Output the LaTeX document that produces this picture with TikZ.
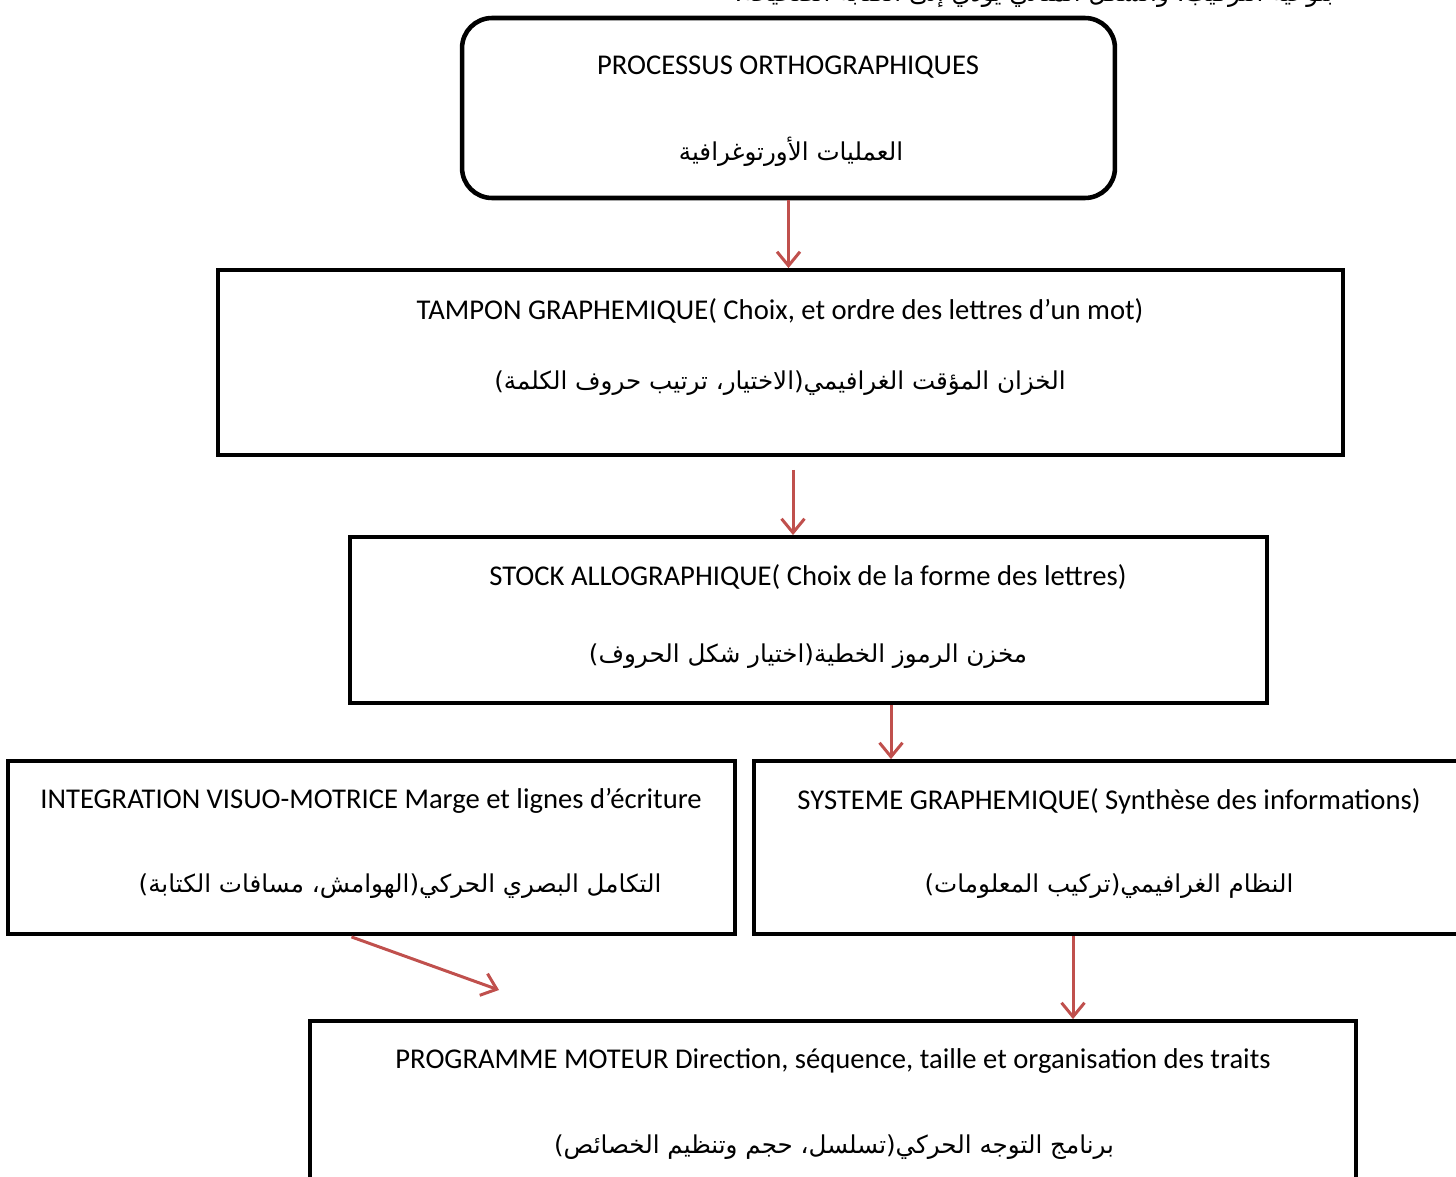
\documentclass[tikz,border=0pt]{standalone}
\usepackage{fontspec}
\setmainfont{Carlito}
\newfontfamily\arabicfont[Script=Arabic]{DejaVu Sans}
\TeXXeTstate=1
\usetikzlibrary{arrows.meta, calc}
\definecolor{arrowred}{HTML}{C0504D}

\begin{document}
\begin{tikzpicture}[x=0.02cm, y=-0.02cm, box/.style={draw, line width=2.2pt, inner sep=0pt}, fr/.style={font=\fontsize{16.3}{19}\selectfont}, ar/.style={font=\arabicfont\fontsize{14}{17}\selectfont}, link/.style={-{Straight Barb[length=0.28cm, width=0.46cm]}, draw=arrowred, line width=1.7pt}]
\useasboundingbox (0,0) rectangle (1456,1176);
\clip (0,0) rectangle (1456,1176);

\node[ar] (note) at (1034,-5) {\beginR بنوعية التركيب، والشكل المثالي يؤدي إلى الكتابة الصحيحة.\endR};

\node[box, line width=2.6pt, rounded corners=0.6cm, minimum width=13.06cm, minimum height=3.6cm] (ortho) at (788.5,108) {};
\node[fr] (orthofr) at (788,67) {PROCESSUS ORTHOGRAPHIQUES};
\node[ar] (orthoar) at (791,152) {\beginR العمليات الأورتوغرافية\endR};

\node[box, minimum width=22.5cm, minimum height=3.7cm] (tampon) at (780.5,362.5) {};
\node[fr] (tamponfr) at (780,311) {TAMPON GRAPHEMIQUE( Choix, et ordre des lettres d’un mot)};
\node[ar] (tamponar) at (780,383) {\beginR الخزان المؤقت الغرافيمي(الاختيار، ترتيب حروف الكلمة)\endR};

\node[box, minimum width=18.34cm, minimum height=3.32cm] (stock) at (808.5,620) {};
\node[fr] (stockfr) at (808,577) {STOCK ALLOGRAPHIQUE( Choix de la forme des lettres)};
\node[ar] (stockar) at (808,656) {\beginR مخزن الرموز الخطية(اختيار شكل الحروف)\endR};

\node[box, minimum width=14.54cm, minimum height=3.46cm] (integ) at (371.5,847.5) {};
\node[fr] (integfr) at (371,801) {INTEGRATION VISUO-MOTRICE Marge et lignes d’écriture};
\node[ar] (integar) at (400,886) {\beginR التكامل البصري الحركي(الهوامش، مسافات الكتابة)\endR};

\node[box, minimum width=14.24cm, minimum height=3.46cm] (systeme) at (1110,847.5) {};
\node[fr] (systemefr) at (1109,801) {SYSTEME GRAPHEMIQUE( Synthèse des informations)};
\node[ar] (systemear) at (1109,886) {\beginR النظام الغرافيمي(تركيب المعلومات)\endR};

\node[box, minimum width=20.92cm, minimum height=3.56cm] (prog) at (833,1110) {};
\node[fr] (progfr) at (833,1061) {PROGRAMME MOTEUR Direction, séquence, taille et organisation des traits};
\node[ar] (progar) at (834,1147) {\beginR برنامج التوجه الحركي(تسلسل، حجم وتنظيم الخصائص)\endR};

\coordinate (a2s) at ($(tampon.south)+(12.5,13)$);
\coordinate (a3s) at ($(stock.south)+(82.5,0)$);
\coordinate (a4s) at ($(integ.south)+(-20,1)$);
\coordinate (a4e) at (499,990);
\coordinate (a5s) at ($(systeme.south)+(-37,0)$);

\draw[link] (ortho.south) -- (ortho.south |- tampon.north);
\draw[link] (a2s) -- (a2s |- stock.north);
\draw[link] (a3s) -- (a3s |- systeme.north);
\draw[link] (a4s) -- (a4e);
\draw[link] (a5s) -- (a5s |- prog.north);
\end{tikzpicture}
\end{document}
